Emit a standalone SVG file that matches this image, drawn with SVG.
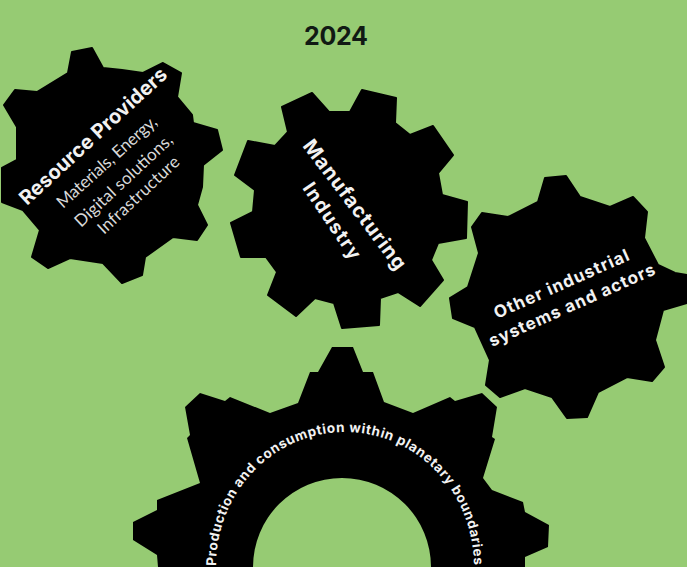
<svg xmlns="http://www.w3.org/2000/svg" width="687" height="567" viewBox="0 0 687 567">
<style>
.g{fill:#000;stroke:#000;stroke-width:2;stroke-linejoin:round}
.h{font-family:Inter,"Liberation Sans",sans-serif;font-weight:700;fill:#f2f2f2}
.s{font-family:Lato,"Liberation Sans",sans-serif;font-weight:400;fill:#d9d9d9;font-size:17px}
</style>
<defs><path id="arc" d="M216 566A129 134 0 0 1 474 566"/></defs>
<rect width="687" height="567" fill="#96cb73"/>
<text x="336" y="45" text-anchor="middle" font-family="Inter,'Liberation Sans',sans-serif" font-weight="700" font-size="25" textLength="64" fill="#111a14">2024</text>
<g id="connectors"/>
<g id="gear-resource">
<polygon class="g" points="72,52 92,48 103,68 122,70 143,73 163,63 181,73 177,97 192,115 193,123 217,130 222,150 203,165 202,187 197,205 207,225 197,240 173,237 145,257 142,275 122,283 103,263 70,258 48,268 32,257 40,230 23,210 2,202 2,168 17,160 17,127 4,105 15,90 37,92 68,73"/>
<text class="h" font-size="20" textLength="192" transform="translate(27,206) rotate(-42.5)">Resource Providers</text>
<text class="s" textLength="128" transform="translate(63,209) rotate(-42)">Materials, Energy,</text>
<text class="s" textLength="127" transform="translate(81,228) rotate(-43)">Digital solutions,</text>
<text class="s" textLength="105" transform="translate(104,235) rotate(-43)">Infrastructure</text>
</g>
<g id="gear-manufacturing">
<polygon class="g" points="282,107 312,93 329,112 350,112 362,90 396,98 395,123 410,135 433,126 453,155 438,173 442,195 467,202 466,238 438,243 431,260 443,280 420,306 398,292 380,298 379,325 342,328 334,303 315,298 296,316 268,295 277,272 266,257 241,257 231,223 253,212 255,190 235,175 248,141 275,146 288,132"/>
<text class="h" font-size="20" textLength="157" transform="translate(302,146) rotate(53)">Manufacturing</text>
<text class="h" font-size="19" textLength="88" transform="translate(302,188) rotate(56)">Industry</text>
</g>
<g id="gear-other">
<polygon class="g" points="545,178 566,176 580,197 610,207 633,197 647,212 644,238 658,265 675,273 687,275 687,303 663,310 655,340 664,367 652,381 627,377 598,392 587,417 567,418 552,397 525,388 500,397 486,385 490,360 475,327 453,318 450,298 468,287 479,253 472,227 482,213 508,217 538,202"/>
<text class="h" font-size="17" textLength="146" transform="translate(497,319) rotate(-24)">Other industrial</text>
<text class="h" font-size="17" textLength="180" transform="translate(492,347) rotate(-24)">systems and actors</text>
</g>
<g id="gear-production">
<path fill="#000" fill-rule="evenodd" d="M332 347L353 347L363 372L373 372L384 402L413 413L450 397L455 401L482 393L497 407L492 437L495 439L483 478L492 490L523 502L525 512L549 525L548 547L525 557L525 567L158 567L157 555L133 540L133 522L157 510L157 500L200 483L187 438L190 435L185 407L200 393L225 401L230 397L270 413L298 403L310 372L318 372ZM253 567A89 89 0 0 1 431 567Z"/>
<text class="h" font-size="13.5"><textPath href="#arc" textLength="412">Production and consumption within planetary boundaries</textPath></text>
</g>
</svg>
